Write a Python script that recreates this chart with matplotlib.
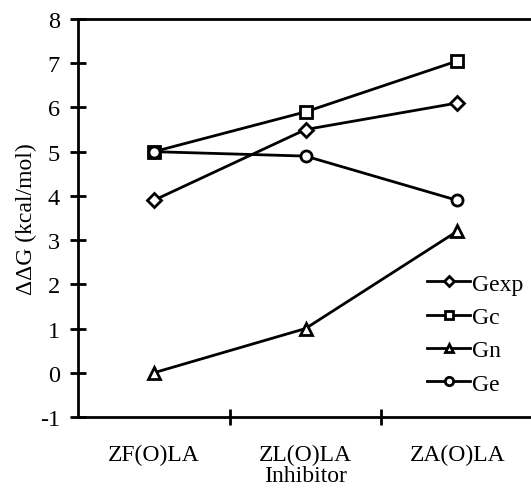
import numpy as np
import matplotlib
matplotlib.use("Agg")
import matplotlib.pyplot as plt

# values
inhibitors = ["ZF(O)LA", "ZL(O)LA", "ZA(O)LA"]
g_exp = [3.9, 5.5, 6.1]
g_c = [5.0, 5.9, 7.05]
g_n = [0.0, 1.0, 3.2]
g_e = [5.0, 4.9, 3.9]

plt.rcParams['font.family'] = ['Liberation Serif', 'DejaVu Serif']
plt.rcParams['axes.unicode_minus'] = False

fig = plt.figure(figsize=(5.31, 4.89), dpi=100)
W, H = 531, 489
ax = fig.add_axes([78 / W, 1 - 418 / H, (533 - 78) / W, (418 - 20) / H])

x = np.arange(len(inhibitors)) + 0.5
style = dict(color='black', lw=2, markersize=8, markerfacecolor='white',
             markeredgewidth=2)
ax.plot(x, g_exp, marker='D', label='Gexp', **dict(style, markersize=7))
ax.plot(x, g_c, marker='s', label='Gc', **style)
ax.plot(x, g_n, marker='^', label='Gn', **style)
ax.plot(x, g_e, marker='o', label='Ge', **style)

ax.set_xlim(0, 3)
ax.set_ylim(-1, 8)
ax.set_yticks(range(-1, 9))
ax.set_xticks([1, 2])
ax.set_xticklabels([])
ax.set_xticks(x, minor=True)
ax.set_xticklabels(inhibitors, minor=True)
ax.tick_params(axis='x', which='minor', length=0, pad=19, labelsize=17)
ax.tick_params(axis='x', which='major', direction='inout', length=12, width=2)
ax.tick_params(axis='y', direction='inout', length=12, width=2, pad=7,
               labelsize=17.5)

for side in ['left', 'bottom', 'top']:
    ax.spines[side].set_linewidth(2)
ax.spines['right'].set_visible(False)

ax.set_xlabel("Inhibitor", fontsize=17, labelpad=0)
ax.set_ylabel("ΔΔG (kcal/mol)", fontsize=17, labelpad=2)

ax.legend(loc='upper right', bbox_to_anchor=(1.0, 0.385), frameon=False,
          fontsize=17, handlelength=1.8, handletextpad=0.1, labelspacing=0.5,
          markerscale=0.75, borderaxespad=0)

fig.savefig("out.png", dpi=100)
